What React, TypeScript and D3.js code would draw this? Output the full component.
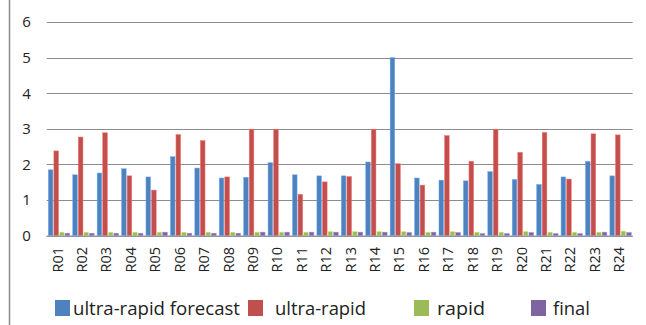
import React from "react";
import * as d3 from "d3";

const categories = ["R01","R02","R03","R04","R05","R06","R07","R08","R09","R10","R11","R12","R13","R14","R15","R16","R17","R18","R19","R20","R21","R22","R23","R24"];
const seriesNames = ["ultra-rapid forecast", "ultra-rapid", "rapid", "final"];
const ultraRapidForecast = [1.85,1.71,1.76,1.88,1.65,2.22,1.9,1.62,1.64,2.05,1.71,1.68,1.68,2.07,5.0,1.62,1.56,1.54,1.8,1.58,1.44,1.65,2.09,1.68];
const ultraRapid = [2.38,2.77,2.89,1.68,1.28,2.84,2.67,1.65,2.99,2.99,1.16,1.51,1.66,2.99,2.02,1.42,2.81,2.09,2.99,2.34,2.9,1.59,2.86,2.83];
const rapid = [0.1,0.1,0.1,0.1,0.1,0.1,0.1,0.1,0.1,0.1,0.1,0.12,0.12,0.12,0.12,0.1,0.12,0.1,0.1,0.12,0.1,0.1,0.1,0.13];
const finalValues = [0.07,0.07,0.07,0.07,0.1,0.07,0.07,0.07,0.1,0.1,0.1,0.1,0.1,0.1,0.09,0.1,0.09,0.06,0.06,0.09,0.06,0.06,0.1,0.09];
const yTicks = [0, 1, 2, 3, 4, 5, 6];
const colors = ["#4F81BD", "#C0504D", "#9BBB59", "#8064A2"];

const W = 646;
const H = 325;
const FONT = "'Open Sans', 'Noto Sans', sans-serif";

export default function App() {
  const series = [ultraRapidForecast, ultraRapid, rapid, finalValues];
  const x = d3.scaleBand<string>().domain(categories).range([46.7, 632.7]).paddingInner(0).paddingOuter(0);
  const y = d3.scaleLinear().domain([0, 6]).range([235.7, 22]);
  const inner = d3.scaleBand<number>().domain([0, 1, 2, 3]).range([1.6, 23]).paddingInner(0.17);

  // legend swatch x, text x, text width
  const legendItems = [
    { sx: 55, tx: 73, tw: 167 },
    { sx: 248, tx: 275, tw: 91 },
    { sx: 414, tx: 437, tw: 48 },
    { sx: 531, tx: 553, tw: 37 },
  ];

  return (
    <svg width={W} height={H} style={{ position: "absolute", left: 0, top: 0, background: "#fff" }} fontFamily={FONT}>
      <rect x={0} y={0} width={W} height={H} fill="#fff" />
      <line x1={9.5} x2={9.5} y1={0} y2={H} stroke="#8a8a8a" strokeWidth={1.5} />

      {yTicks.map((t) => (
        <g key={t}>
          <line x1={46.7} x2={632.7} y1={Math.round(y(t)) + 0.5} y2={Math.round(y(t)) + 0.5} stroke="#8c8c8c" strokeWidth={1} />
          <text x={26.5} y={y(t)} dy="0.36em" textAnchor="middle" fontSize={15} fill="#222">{t}</text>
        </g>
      ))}

      {categories.map((c, i) => (
        <g key={c} transform={`translate(${x(c)},0)`}>
          {series.map((s, k) => (
            <rect
              key={k}
              x={inner(k)}
              y={y(s[i])}
              width={inner.bandwidth()}
              height={y(0) - y(s[i])}
              fill={colors[k]}
              stroke={d3.color(colors[k])!.brighter(0.9).toString()}
              strokeWidth={0.5}
            />
          ))}
        </g>
      ))}

      <line x1={46.7} x2={632.7} y1={236.2} y2={236.2} stroke="#8c96a8" strokeWidth={1.2} />

      {categories.map((c) => {
        const cx = (x(c) as number) + x.bandwidth() / 2;
        return (
          <text key={c} transform={`translate(${cx - 1.5},247) rotate(-90)`} dy="0.36em" textAnchor="end" fontSize={14.5} fill="#222">
            {c}
          </text>
        );
      })}

      {seriesNames.map((n, k) => (
        <g key={n}>
          <rect x={legendItems[k].sx} y={300} width={15} height={16} fill={colors[k]} />
          <text x={legendItems[k].tx} y={314.5} fontSize={17.5} fill="#222" textLength={legendItems[k].tw} lengthAdjust="spacingAndGlyphs">{n}</text>
        </g>
      ))}
    </svg>
  );
}
